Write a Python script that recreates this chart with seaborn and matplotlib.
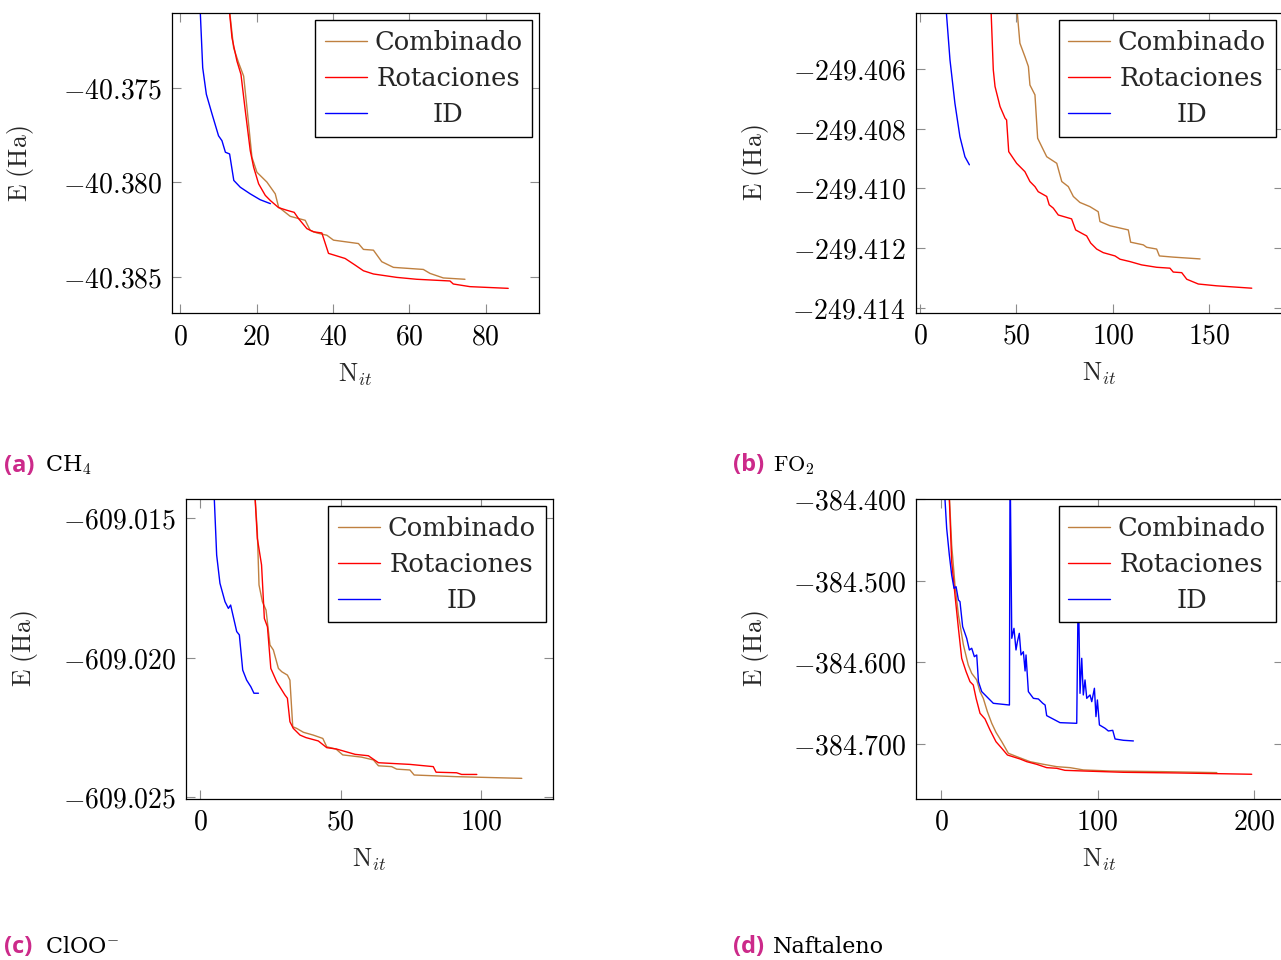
import matplotlib
matplotlib.use("Agg")
import matplotlib.pyplot as plt
import seaborn as sns
from matplotlib.ticker import FuncFormatter

# ---- data (energy vs iteration) ----
# CH4
ch4_comb_x = [12.4, 13.96, 15.27, 16.58, 17.45, 18.76, 20.07, 22.69, 24.87, 25.74, 28.8, 32.72, 34.03,
              35.78, 38.4, 40.14, 46.68, 47.99, 50.61, 52.79, 55.85, 63.7, 65.45, 68.94, 74.61]
ch4_comb_y = [-40.3700, -40.37288, -40.37367, -40.37437, -40.37604, -40.37867, -40.37946, -40.37998,
              -40.38060, -40.38130, -40.38179, -40.38200, -40.38253, -40.38267, -40.38279, -40.38305,
              -40.38323, -40.38354, -40.38358, -40.38419, -40.38449, -40.38460, -40.38481, -40.38505,
              -40.38512]
ch4_rot_x = [12.4, 13.53, 14.83, 15.88, 17.02, 18.32, 19.2, 20.51, 22.25, 23.56, 25.74, 27.92, 29.84,
             30.98, 33.16, 34.9, 37.09, 38.83, 43.19, 45.81, 47.99, 50.61, 56.72, 61.96, 70.68, 71.55,
             75.92, 85.95]
ch4_rot_y = [-40.3700, -40.37235, -40.37358, -40.37428, -40.37621, -40.37832, -40.37919, -40.38007,
             -40.38068, -40.38095, -40.38133, -40.38147, -40.38158, -40.38191, -40.38244, -40.38261,
             -40.38267, -40.38375, -40.38402, -40.38437, -40.38467, -40.38484, -40.38502, -40.38512,
             -40.38521, -40.38537, -40.38551, -40.38560]
ch4_id_x = [5.0, 5.85, 6.8, 8.3, 10.0, 10.9, 11.8, 12.9, 14.0, 15.7, 18.3, 20.9, 23.6]
ch4_id_y = [-40.3700, -40.37393, -40.37533, -40.37638, -40.37753, -40.37779, -40.37840, -40.37849,
            -40.37989, -40.38025, -40.38060, -40.38091, -40.38112]

# FO2
fo2_comb_x = [50.0, 51.8, 54.4, 56.2, 57.0, 59.6, 61.0, 63.1, 65.7, 70.9, 73.5, 76.9, 79.5, 82.9, 88.1,
              92.4, 93.3, 98.5, 108.0, 109.2, 115.8, 117.5, 122.7, 124.1, 131.3, 145.2]
fo2_comb_y = [-249.4038, -249.40514, -249.40559, -249.40592, -249.40654, -249.40687, -249.40832,
              -249.40860, -249.40894, -249.40916, -249.40977, -249.40994, -249.41027, -249.41047,
              -249.41061, -249.41078, -249.41111, -249.41125, -249.41139, -249.41180, -249.41189,
              -249.41197, -249.41203, -249.41226, -249.41230, -249.41236]
fo2_rot_x = [36.7, 38.0, 38.9, 41.5, 44.1, 44.9, 46.0, 50.1, 54.4, 57.0, 59.6, 61.3, 65.7, 67.0, 69.1,
             71.7, 78.6, 80.7, 83.8, 86.4, 88.5, 91.6, 95.0, 101.1, 103.7, 108.9, 114.9, 122.7, 129.6,
             131.3, 135.7, 138.3, 144.3, 153.8, 172.0]
fo2_rot_y = [-249.4038, -249.40603, -249.40659, -249.40726, -249.40765, -249.40771, -249.40877,
             -249.40916, -249.40944, -249.40977, -249.40994, -249.41011, -249.41027, -249.41055,
             -249.41066, -249.41089, -249.41102, -249.41139, -249.41150, -249.41159, -249.41183,
             -249.41203, -249.41215, -249.41226, -249.41237, -249.41245, -249.41256, -249.41264,
             -249.41267, -249.41280, -249.41282, -249.41304, -249.41320, -249.41326, -249.41334]
fo2_id_x = [13.3, 15.55, 18.1, 20.7, 23.3, 25.6]
fo2_id_y = [-249.4038, -249.40570, -249.40715, -249.40827, -249.40894, -249.40921]

# ClOO-
cloo_comb_x = [19.5, 20.4, 21.0, 22.2, 23.5, 24.9, 26.1, 27.9, 29.1, 31.1, 32.0, 33.0, 34.4, 36.8, 40.3,
               43.7, 45.1, 48.4, 50.8, 57.5, 61.7, 63.5, 68.2, 70.0, 74.7, 76.2, 91.3, 114.5]
cloo_comb_y = [-609.0141, -609.01549, -609.01740, -609.01800, -609.01830, -609.01955, -609.01973,
               -609.02039, -609.02051, -609.02063, -609.02081, -609.02248, -609.02254, -609.02268,
               -609.02278, -609.02290, -609.02320, -609.02328, -609.02349, -609.02357, -609.02367,
               -609.02388, -609.02391, -609.02400, -609.02403, -609.02421, -609.02427, -609.02433]
cloo_rot_x = [19.5, 20.4, 21.9, 22.9, 24.0, 25.2, 27.3, 30.2, 31.1, 32.0, 33.2, 35.6, 37.7, 42.1, 45.1,
              48.6, 55.2, 59.9, 63.5, 74.7, 83.0, 84.0, 91.3, 93.1, 98.5]
cloo_rot_y = [-609.0141, -609.01573, -609.01668, -609.01860, -609.01890, -609.02039, -609.02087,
              -609.02134, -609.02146, -609.02230, -609.02254, -609.02278, -609.02287, -609.02299,
              -609.02323, -609.02328, -609.02347, -609.02352, -609.02377, -609.02383, -609.02391,
              -609.02411, -609.02413, -609.02419, -609.02419]
cloo_id_x = [5.0, 5.93, 7.1, 8.9, 10.1, 10.9, 13.06, 14.0, 15.2, 16.6, 18.1, 19.2, 20.8]
cloo_id_y = [-609.0141, -609.01633, -609.01734, -609.01800, -609.01824, -609.01812, -609.01907,
             -609.01919, -609.02045, -609.02081, -609.02105, -609.02128, -609.02128]

# Naftaleno
naf_comb_x = [4.9, 6.8, 8.9, 11.1, 14.3, 17.4, 19.6, 22.8, 24.9, 27.0, 29.6, 32.4, 35.1, 38.8, 43.0,
              48.4, 56.9, 65.4, 73.9, 82.4, 90.9, 108.0, 142.0, 176.2]
naf_comb_y = [-384.38, -384.4563, -384.5053, -384.5420, -384.5788, -384.6033, -384.6135, -384.6216,
              -384.6359, -384.6441, -384.6604, -384.6747, -384.6857, -384.6972, -384.7114, -384.7155,
              -384.7217, -384.7249, -384.7278, -384.7290, -384.7318, -384.7331, -384.7339, -384.7351]
naf_rot_x = [4.9, 6.8, 8.9, 11.1, 13.2, 16.0, 18.5, 20.6, 22.4, 24.9, 28.1, 31.3, 35.1, 38.8, 42.4,
             50.5, 54.8, 61.1, 67.5, 73.9, 79.2, 90.9, 116.5, 150.6, 198.5]
naf_rot_y = [-384.38, -384.4767, -384.5176, -384.5584, -384.5951, -384.6114, -384.6237, -384.6278,
             -384.6441, -384.6624, -384.6694, -384.6829, -384.6972, -384.7053, -384.7135, -384.7184,
             -384.7217, -384.7249, -384.7290, -384.7298, -384.7323, -384.7331, -384.7347, -384.7355,
             -384.7371]
naf_id_x = [1.9, 3.6, 5.3, 6.8, 8.3, 9.6, 11.1, 12.1, 13.8, 16.4, 18.1, 19.6, 21.3, 22.8, 23.9, 26.0,
            33.4, 43.7, 44.1, 45.2, 46.6, 47.9, 48.8, 50.0, 51.1, 52.6, 53.7, 54.3, 55.8, 59.0, 62.2,
            65.0, 66.5, 67.5, 76.0, 86.7, 87.7, 88.8, 89.9, 90.9, 92.0, 93.1, 95.2, 96.3, 98.0, 99.0,
            99.9, 101.2, 104.8, 106.9, 109.7, 111.2, 116.5, 122.9]
naf_id_y = [-384.38, -384.4359, -384.4686, -384.4931, -384.5094, -384.5074, -384.5237, -384.5257,
            -384.5563, -384.5706, -384.5849, -384.5828, -384.5931, -384.5910, -384.6237, -384.6359,
            -384.6502, -384.6523, -384.35, -384.5706, -384.5584, -384.5849, -384.5747, -384.5645,
            -384.5910, -384.5870, -384.6106, -384.5910, -384.6359, -384.6441, -384.6449, -384.6502,
            -384.6523, -384.6653, -384.6739, -384.6747, -384.50, -384.6380, -384.5951, -384.6400,
            -384.6216, -384.6441, -384.6400, -384.6482, -384.6318, -384.6665, -384.6461, -384.6767,
            -384.6808, -384.6841, -384.6833, -384.6939, -384.6955, -384.6963]

series_names = ["Combinado", "Rotaciones", "ID"]
series_colors = ["#bf8040", "#ff0000", "#0000ff"]

ch4_xticks = [0, 20, 40, 60, 80]
ch4_yticks = [-40.385, -40.380, -40.375]
fo2_xticks = [0, 50, 100, 150]
fo2_yticks = [-249.414, -249.412, -249.410, -249.408, -249.406]
cloo_xticks = [0, 50, 100]
cloo_yticks = [-609.025, -609.020, -609.015]
naf_xticks = [0, 100, 200]
naf_yticks = [-384.7, -384.6, -384.5, -384.4]

captions = ["(a)", "(b)", "(c)", "(d)"]
caption_texts = ["CH$_4$", r"$\mathrm{FO}_2$", "ClOO$^{-}$", "Naftaleno"]

W, H = 1281, 960
MAGENTA = "#cc2a8a"


def center_legend_labels(fig, leg):
    # pgfplots centres the legend text; emulate by widening the handle/text gap per row
    fig.canvas.draw()
    renderer = fig.canvas.get_renderer()
    widths = [t.get_window_extent(renderer).width * 72 / fig.dpi for t in leg.get_texts()]
    widest = max(widths)
    base = leg.handletextpad * leg._fontsize
    rows = [row for col in leg._legend_handle_box.get_children() for row in col.get_children()]
    for row, w in zip(rows, widths):
        row.sep = base + (widest - w) / 2


def draw_panel(fig, box, data, xticks, yticks, xlim, ylim, ylab_x):
    left, top, right, bottom = box
    ax = fig.add_axes([left / W, 1 - bottom / H, (right - left) / W, (bottom - top) / H])
    for (xs, ys), name, color in zip(data, series_names, series_colors):
        sns.lineplot(x=xs, y=ys, sort=False, estimator=None, color=color, lw=1.0,
                     label=name, ax=ax)
    ax.set_xlim(*xlim)
    ax.set_ylim(*ylim)
    ax.set_xticks(xticks)
    ax.set_yticks(yticks)
    ax.xaxis.set_major_formatter(FuncFormatter(lambda v, p: f"${v:.0f}$"))
    ax.yaxis.set_major_formatter(FuncFormatter(lambda v, p: f"${v:.3f}$"))
    ax.tick_params(direction="in", top=True, right=True, length=6.5, width=0.8,
                   color="#8c8c8c", labelsize=20, pad=7, labelcolor="black")
    for sp in ax.spines.values():
        sp.set_color("black")
        sp.set_linewidth(0.9)
    ax.set_xlabel(r"$\mathrm{N}_{it}$", fontsize=18.5)
    ax.set_ylabel(r"$\mathrm{E\ (Ha)}$", fontsize=18.5)
    ax.xaxis.set_label_coords(0.5, -0.16)
    ax.yaxis.set_label_coords(ylab_x, 0.5)
    leg = ax.legend(loc="upper right", borderaxespad=0.28, borderpad=0.38,
                    handlelength=1.63, handletextpad=0.3, labelspacing=0.42,
                    fancybox=False, framealpha=1, edgecolor="black",
                    prop={"family": "DejaVu Serif", "size": 18.5})
    leg.get_frame().set_linewidth(1.0)
    return ax, leg


sns.set_theme(style="ticks")
plt.rcParams["font.family"] = ["DejaVu Serif"]
plt.rcParams["mathtext.fontset"] = "cm"

fig = plt.figure(figsize=(W / 100, H / 100), dpi=100)

panels = [
    ((172, 13.3, 539.3, 313.3),
     [(ch4_comb_x, ch4_comb_y), (ch4_rot_x, ch4_rot_y), (ch4_id_x, ch4_id_y)],
     ch4_xticks, ch4_yticks, (-2.2, 94.1), (-40.38692, -40.37105), -0.371),
    ((916, 13.3, 1283, 312.7),
     [(fo2_comb_x, fo2_comb_y), (fo2_rot_x, fo2_rot_y), (fo2_id_x, fo2_id_y)],
     fo2_xticks, fo2_yticks, (-2.07, 188.2), (-249.41416, -249.40414), -0.395),
    ((186, 499, 552.7, 799),
     [(cloo_comb_x, cloo_comb_y), (cloo_rot_x, cloo_rot_y), (cloo_id_x, cloo_id_y)],
     cloo_xticks, cloo_yticks, (-4.98, 125.5), (-609.02507, -609.01432), -0.398),
    ((916, 499, 1283, 799),
     [(naf_comb_x, naf_comb_y), (naf_rot_x, naf_rot_y), (naf_id_x, naf_id_y)],
     naf_xticks, naf_yticks, (-16.0, 218.5), (-384.7674, -384.400), -0.395),
]

legends = []
for box, data, xt, yt, xl, yl, ylx in panels:
    ax, leg = draw_panel(fig, box, data, xt, yt, xl, yl, ylx)
    legends.append(leg)

for leg in legends:
    center_legend_labels(fig, leg)

cap_pos = [(4, 45, 471.7), (733, 773, 471), (4, 45, 953), (733, 773, 953)]
for (xl, xt, yb), lab, txt in zip(cap_pos, captions, caption_texts):
    fig.text(xl / W, 1 - yb / H, lab, family="Open Sans", weight="bold", size=17,
             color=MAGENTA, va="baseline", ha="left")
    fig.text(xt / W, 1 - yb / H, txt, family="DejaVu Serif", size=16,
             color="black", va="baseline", ha="left")

fig.savefig("out.png", dpi=100)
